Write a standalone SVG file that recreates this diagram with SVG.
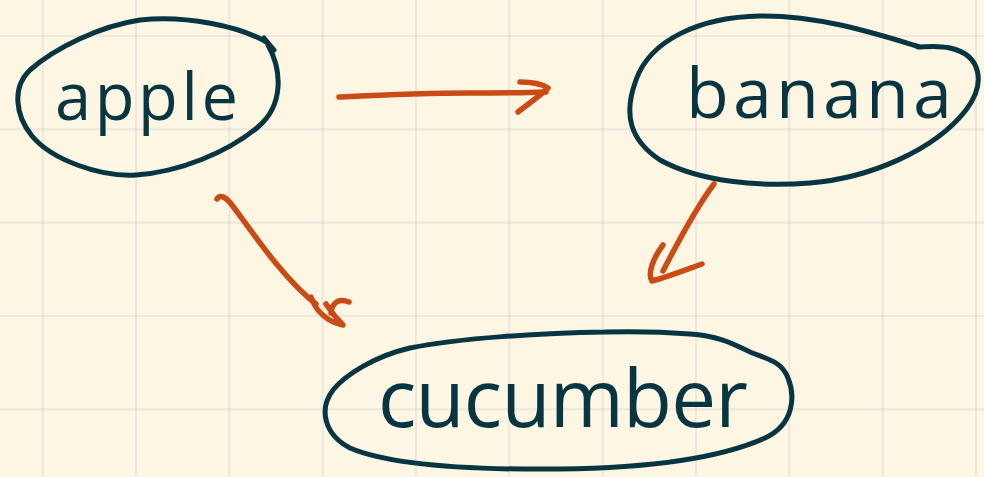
<svg xmlns="http://www.w3.org/2000/svg" width="984" height="477" viewBox="0 0 984 477">
<defs>
<style>
.bg{fill:#fdf6e3}
.grid line{stroke:#6c71c4;stroke-opacity:0.11;stroke-width:2}
.outline{fill:none;stroke:#073642;stroke-width:5;stroke-linecap:round;stroke-linejoin:round}
.label{font-family:"Open Sans","DejaVu Sans",sans-serif;fill:#073642}
.edge{fill:none;stroke:#cb4b16;stroke-width:5.5;stroke-linecap:round;stroke-linejoin:round}
</style>
</defs>
<rect class="bg" x="0" y="0" width="984" height="477"/>
<g class="grid">
<line x1="42.7" y1="0" x2="42.7" y2="477"/>
<line x1="136" y1="0" x2="136" y2="477"/>
<line x1="229.3" y1="0" x2="229.3" y2="477"/>
<line x1="322.7" y1="0" x2="322.7" y2="477"/>
<line x1="416" y1="0" x2="416" y2="477"/>
<line x1="509.3" y1="0" x2="509.3" y2="477"/>
<line x1="602.7" y1="0" x2="602.7" y2="477"/>
<line x1="696" y1="0" x2="696" y2="477"/>
<line x1="789.3" y1="0" x2="789.3" y2="477"/>
<line x1="882.7" y1="0" x2="882.7" y2="477"/>
<line x1="976" y1="0" x2="976" y2="477"/>
<line x1="0" y1="36" x2="984" y2="36"/>
<line x1="0" y1="129.3" x2="984" y2="129.3"/>
<line x1="0" y1="222.7" x2="984" y2="222.7"/>
<line x1="0" y1="316" x2="984" y2="316"/>
<line x1="0" y1="409.3" x2="984" y2="409.3"/>
</g>
<g id="connectors">
<g id="edge-apple-banana">
<path class="edge" d="M339,97 C380,95 420,93 470,93 C500,93 525,93 546,92"/>
<path class="edge" d="M520,82 C532,82 542,84 548,88 C540,96 528,104 518,112"/>
</g>
<g id="edge-apple-cucumber">
<path class="edge" d="M217,199 C220,194 226,197 232,205 C258,240 285,280 316,304"/>
<path class="edge" d="M311,297 C316,312 328,322 343,325 C336,318 330,310 326,304 M331,313 C332,303 338,298 349,302"/>
</g>
<g id="edge-banana-cucumber">
<path class="edge" d="M714,184 C698,205 680,238 663,271"/>
<path class="edge" d="M663,245 C654,257 647,273 652,281 C668,277 688,269 702,264"/>
</g>
</g>
<g id="node-apple">
<path class="outline" d="M268,43 C240,26 185,15 140,20 C100,26 55,48 30,70 C12,87 15,115 32,136 C52,160 100,177 136,175 C180,172 228,152 258,127 C284,105 282,70 268,45 M264,38 L274,50"/>
<text class="label" x="55" y="120" font-size="65" textLength="183" lengthAdjust="spacing">apple</text>
</g>
<g id="node-banana">
<path class="outline" d="M920,47 C880,35 820,15 760,16 C700,17 650,40 636,80 C623,115 630,140 660,160 C700,182 760,187 810,183 C870,178 935,150 966,110 C986,84 982,55 950,48 C937,45 925,47 918,47"/>
<text class="label" x="686" y="118" font-size="70" textLength="266" lengthAdjust="spacing">banana</text>
</g>
<g id="node-cucumber">
<path class="outline" d="M605,332 C540,333 460,338 410,348 C375,356 345,375 333,390 C318,410 325,435 350,448 C390,465 470,470 560,469 C650,468 720,458 765,438 C795,424 795,395 788,378 C782,362 770,360 750,352 C735,345 720,336 690,334 C665,332 640,331 605,332"/>
<text class="label" x="378" y="427" font-size="80" textLength="370" lengthAdjust="spacing">cucumber</text>
</g>
</svg>
